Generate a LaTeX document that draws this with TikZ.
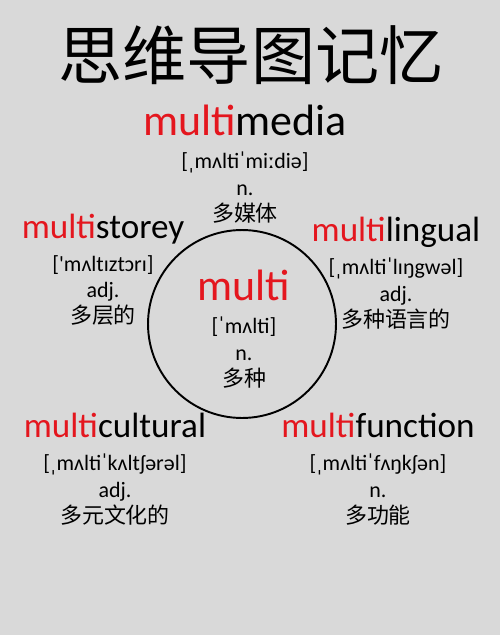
\documentclass[tikz,border=0pt]{standalone}
\usepackage{fontspec}
\setmainfont{Carlito}
\newfontfamily\cjk{Noto Sans CJK SC}
\usetikzlibrary{positioning}

\definecolor{paper}{HTML}{D9D9D9}
\definecolor{multired}{RGB}{228,22,30}
\newcommand{\pre}{\textcolor{multired}{multi}}

\tikzset{
  head/.style={font=\fontsize{25}{30}\selectfont, inner sep=0pt, anchor=base, text height=0.75em, text depth=0.2em},
  word/.style={head, font=\fontsize{20}{24}\selectfont},
  info/.style={font=\fontsize{12.5}{15}\selectfont, align=center, inner sep=0pt, below=0.26cm of #1},
}

\begin{document}
\begin{tikzpicture}[x=0.02cm,y=-0.02cm]
  \fill[paper] (0,0) rectangle (500,635);
  \useasboundingbox (0,0) rectangle (500,635);

  % title
  \node[font=\cjk\fontsize{36.5}{40}\selectfont, inner sep=0pt] (title) at (251,55) {思维导图记忆};

  % centre word
  \node[draw, circle, line width=1.1pt, minimum size=3.76cm, inner sep=0pt] (core) at (242,324) {};
  \node[head] (multi) at (244,300) {\pre};
  \node[info=multi] (multi-info) {[ˈmʌlti]\\n.\\{\cjk 多种}};

  % words round it
  \node[head] (media) at (245,135) {\pre media};
  \node[info=media] (media-info) {[ˌmʌltiˈmiːdiə]\\n.\\{\cjk 多媒体}};

  \node[word] (storey) at (103,238) {\pre storey};
  \node[info=storey] (storey-info) {[\textquotesingle mʌltɪztɔrɪ]\\adj.\\{\cjk 多层的}};

  \node[word] (lingual) at (396,241) {\pre lingual};
  \node[info=lingual] (lingual-info) {[ˌmʌltiˈlɪŋgwəl]\\adj.\\{\cjk 多种语言的}};

  \node[word] (cultural) at (115,437) {\pre cultural};
  \node[info=cultural] (cultural-info) {[ˌmʌltiˈkʌltʃərəl]\\adj.\\{\cjk 多元文化的}};

  \node[word] (function) at (378,437) {\pre function};
  \node[info=function] (function-info) {[ˌmʌltiˈfʌŋkʃən]\\n.\\{\cjk 多功能}};
\end{tikzpicture}
\end{document}
